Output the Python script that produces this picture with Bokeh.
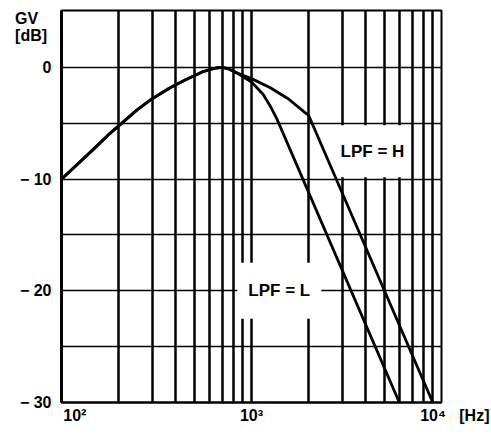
from bokeh.plotting import figure
from bokeh.models import FixedTicker, Label
from bokeh.embed import file_html
from bokeh.resources import INLINE

# ---- data ----
freq_h = [100, 150, 180, 250, 300, 375, 450, 550, 650, 700, 750, 840, 1000, 1250, 1560, 1900, 2000, 9000]
gain_h = [-10, -7.2, -5.9, -3.8, -2.8, -1.8, -1.1, -0.4, -0.05, 0, -0.1, -0.5, -1.0, -1.8, -2.8, -4.0, -4.3, -30]
freq_l = [100, 150, 180, 250, 300, 375, 450, 550, 650, 700, 750, 840, 1000, 1150, 1250, 1360, 6000]
gain_l = [-10, -7.2, -5.9, -3.8, -2.8, -1.8, -1.1, -0.4, -0.05, 0, -0.1, -0.5, -1.3, -2.4, -3.4, -4.6, -30]

grid_freqs = [100, 200, 300, 400, 500, 600, 700, 800, 900,
              1000, 2000, 3000, 4000, 5000, 6000, 7000, 8000, 9000, 10000]
grid_db = [0, -5, -10, -15, -20, -25, -30]

NB = "\u00a0"
x_ticks = [100, 1000, 10000]
x_tick_labels = [NB * 6 + "10²", "10³", NB * 6 + "10⁴" + NB * 3 + "[Hz]"]
y_ticks = [4.4, 2.9, 0, -10, -20, -30]
y_tick_labels = ["GV" + NB * 3, "[dB]" + NB, "0", "− 10", "− 20", "− 30"]

label_text = ["LPF = H", "LPF = L"]
label_freq = [4330, 1400]
label_gain = [-7.5, -20]
box_w = [76, 84]
box_h = [52, 56]

FONT = "Liberation Sans"

p = figure(width=490, height=432, x_axis_type="log",
           x_range=(100, 10000), y_range=(-30, 5.1),
           output_backend="svg", toolbar_location=None,
           min_border_left=61, min_border_right=49,
           min_border_top=10, min_border_bottom=30)

p.background_fill_color = "white"
p.border_fill_color = "white"
p.outline_line_color = "black"
p.outline_line_width = 2
p.outline_line_alpha = 1

# grids
p.xgrid.ticker = FixedTicker(ticks=grid_freqs)
p.xgrid.grid_line_color = "black"
p.xgrid.grid_line_width = 2.5
p.xgrid.grid_line_alpha = 1
p.ygrid.ticker = FixedTicker(ticks=grid_db)
p.ygrid.grid_line_color = "black"
p.ygrid.grid_line_width = 1.5
p.ygrid.grid_line_alpha = 1

# axes
for ax in (p.xaxis, p.yaxis):
    ax.major_tick_line_color = None
    ax.minor_tick_line_color = None
    ax.major_tick_in = 0
    ax.major_tick_out = 0
    ax.minor_tick_in = 0
    ax.minor_tick_out = 0
    ax.major_label_text_font = FONT
    ax.major_label_text_font_style = "bold"
    ax.major_label_text_color = "black"
    ax.major_label_text_font_size = "16px"

p.xaxis.ticker = FixedTicker(ticks=x_ticks)
p.xaxis.major_label_overrides = {t: s for t, s in zip(x_ticks, x_tick_labels)}
p.xaxis.major_label_standoff = 4
p.xaxis.axis_line_color = "black"
p.xaxis.axis_line_width = 2

p.yaxis.ticker = FixedTicker(ticks=y_ticks)
p.yaxis.major_label_overrides = {t: s for t, s in zip(y_ticks, y_tick_labels)}
p.yaxis.major_label_standoff = 10
p.yaxis.axis_line_color = "black"
p.yaxis.axis_line_width = 3

# white label backgrounds (cover the grid, under the curves)
p.rect(x=label_freq, y=label_gain, width=box_w, height=box_h,
       width_units="screen", height_units="screen",
       fill_color="white", line_color=None)

# curves
p.line(freq_l, gain_l, line_color="black", line_width=2.8, line_join="round")
p.line(freq_h, gain_h, line_color="black", line_width=2.8, line_join="round")

for t, fx, gy in zip(label_text, label_freq, label_gain):
    p.add_layout(Label(x=fx, y=gy, text=t, text_align="center", text_baseline="middle",
                       text_font=FONT, text_font_size="17px", text_font_style="bold",
                       text_color="black"))

open("out.html", "w").write(file_html(p, INLINE))
